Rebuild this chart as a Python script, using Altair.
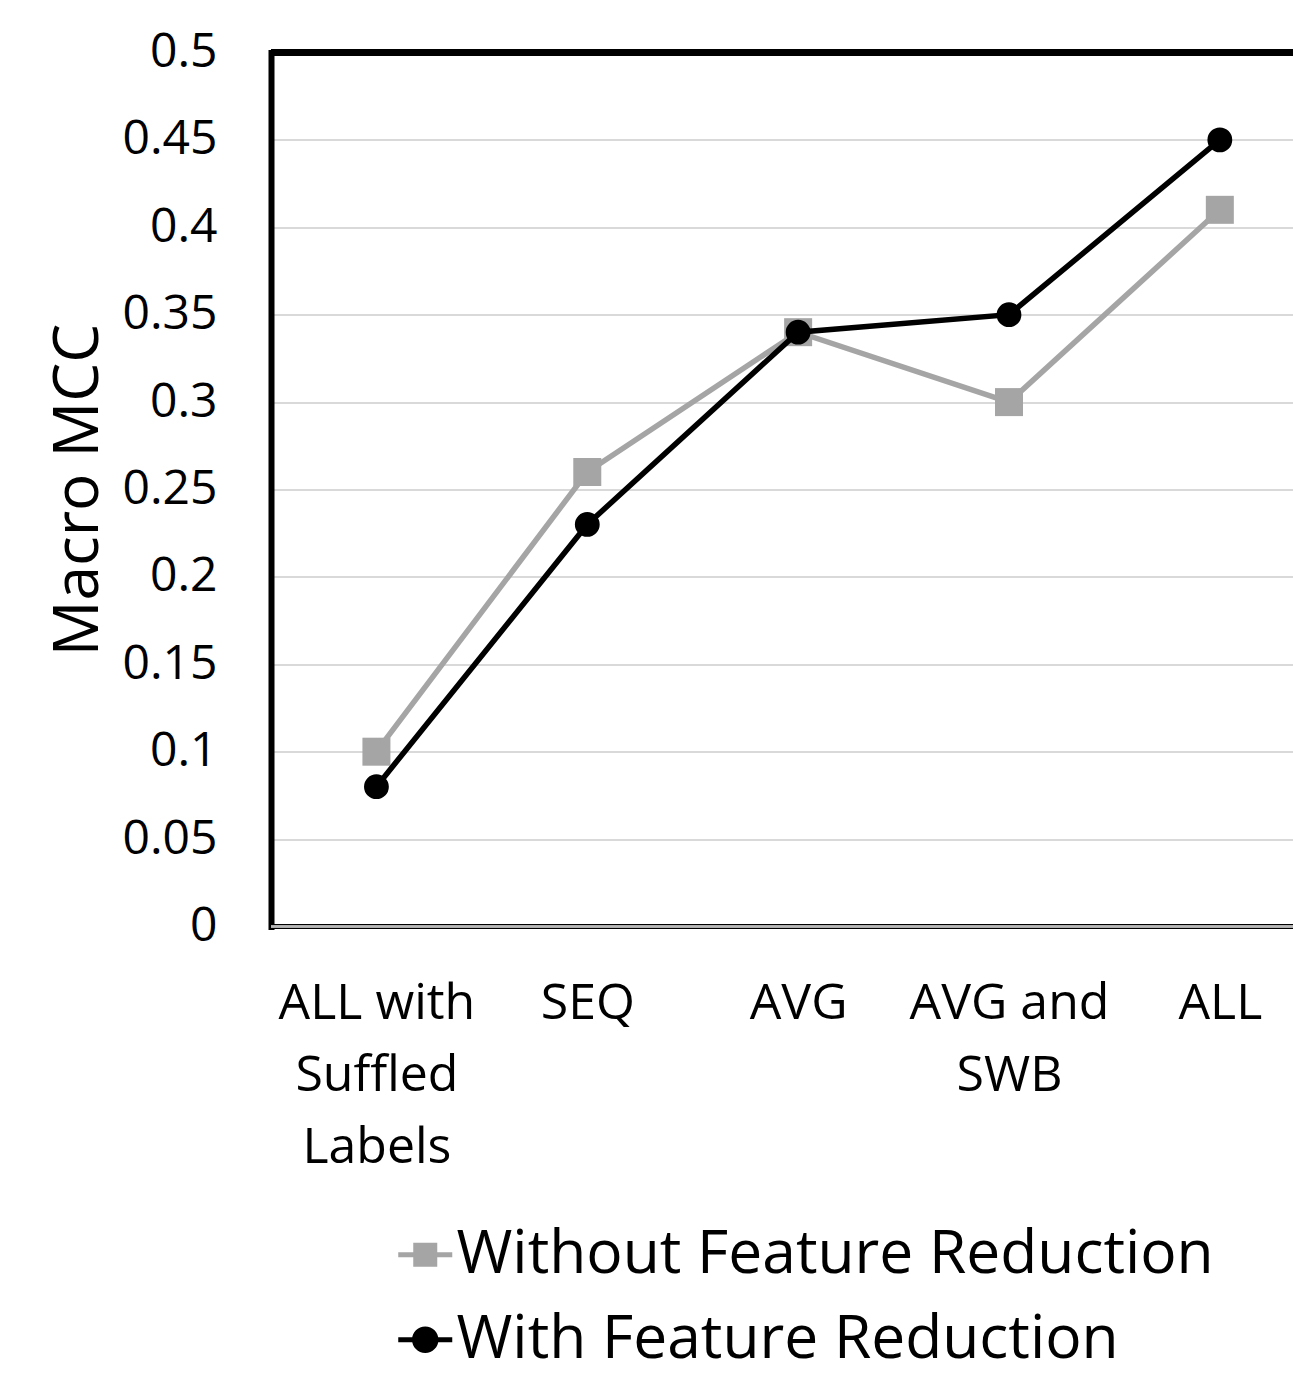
import altair as alt
import pandas as pd

# ---- data ----
categories = ["ALL with|Suffled|Labels", "SEQ", "AVG", "AVG and|SWB", "ALL"]
series_names = ["Without Feature Reduction", "With Feature Reduction"]
without_fr = [0.10, 0.26, 0.34, 0.30, 0.41]
with_fr = [0.08, 0.23, 0.34, 0.35, 0.45]
y_ticks = [0, 0.05, 0.1, 0.15, 0.2, 0.25, 0.3, 0.35, 0.4, 0.45, 0.5]

rows = []
for i, v in enumerate(without_fr):
    rows.append({"idx": i, "series": series_names[0], "value": v})
for i, v in enumerate(with_fr):
    rows.append({"idx": i, "series": series_names[1], "value": v})
df = pd.DataFrame(rows)

FONT = "Open Sans"
GRAY = "#a5a5a5"
BLACK = "#000000"
series_colors = [GRAY, BLACK]

cat_literal = "[" + ",".join("'" + c + "'" for c in categories) + "]"
label_expr = f"split({cat_literal}[datum.value], '|')"

x_enc = alt.X(
    "idx:Q",
    scale=alt.Scale(domain=[-0.5, 4.347], nice=False, zero=False),
    axis=alt.Axis(
        title=None, values=list(range(len(categories))), labelExpr=label_expr,
        grid=False, domain=False, ticks=False, labelFontSize=50, labelFont=FONT,
        labelColor=BLACK, labelPadding=52, labelLineHeight=72, labelBaseline="top",
        labelAlign="center", labelFlush=False, labelOverlap=False, labelLimit=1000,
    ),
)
y_enc = alt.Y(
    "value:Q",
    scale=alt.Scale(domain=[0, 0.5], nice=False),
    axis=alt.Axis(
        title="Macro MCC", values=y_ticks, format="~g", grid=True,
        gridColor="#d9d9d9", gridWidth=2, domain=True, domainColor=BLACK,
        domainWidth=6, domainCap="square", ticks=False, labelFontSize=48, labelFont=FONT,
        labelColor=BLACK, labelPadding=54, titleFontSize=62, titleFont=FONT,
        titleFontWeight="normal", titleColor=BLACK, titleAngle=-90, titleX=-193,
        titleY=437, titleAlign="center", titleBaseline="middle",
    ),
)
color_scale = alt.Scale(domain=series_names, range=series_colors)

base = alt.Chart(df)

sq_path = "M-2.25,-0.2H2.25V0.2H-2.25Z M-1,-1H1V1H-1Z"
ci_path = ("M-2.25,-0.2H2.25V0.2H-2.25Z "
           "M-1.1,0A1.1,1.1 0 1,1 1.1,0A1.1,1.1 0 1,1 -1.1,0Z")

legend_layer = base.transform_filter("datum.value > 10").mark_point(
    filled=True, opacity=1, size=576
).encode(
    x=x_enc, y=y_enc,
    color=alt.Color("series:N", scale=color_scale, legend=alt.Legend(
        title=None, orient="none", legendX=124, legendY=1172, labelFont=FONT,
        labelFontSize=60.5, labelColor=BLACK, labelLimit=1500, labelOffset=1,
        rowPadding=24, padding=0, symbolStrokeWidth=0, symbolOpacity=1,
        symbolSize=576,
    )),
    shape=alt.Shape("series:N", scale=alt.Scale(domain=series_names, range=[sq_path, ci_path])),
)

top_rule = base.mark_rule(color=BLACK, strokeWidth=6).encode(y=alt.datum(0.5))
bottom_rule = base.mark_rule(color=BLACK, strokeWidth=5).encode(y=alt.datum(0))
bottom_inner = base.mark_rule(color="#b8b8b8", strokeWidth=1.5).encode(y=alt.datum(0))

def series_layers(k, shape, size):
    sub = base.transform_filter(alt.datum.series == series_names[k])
    line = sub.mark_line(strokeWidth=5.5, color=series_colors[k]).encode(x=x_enc, y=y_enc)
    pts = sub.mark_point(filled=True, opacity=1, shape=shape, size=size,
                         color=series_colors[k]).encode(x=x_enc, y=y_enc)
    return [line, pts]

layers = [bottom_rule, bottom_inner, top_rule]
layers += series_layers(0, "square", 784)
layers += series_layers(1, "circle", 616)
layers.append(legend_layer)

chart = alt.layer(*layers).properties(
    width=1022, height=874, autosize="none",
    padding={"left": 271, "top": 52.5, "right": 0, "bottom": 448.5},
).configure_view(stroke=None).configure(background="white")

chart.save("out.html", embed_options={"renderer": "svg", "actions": False})
